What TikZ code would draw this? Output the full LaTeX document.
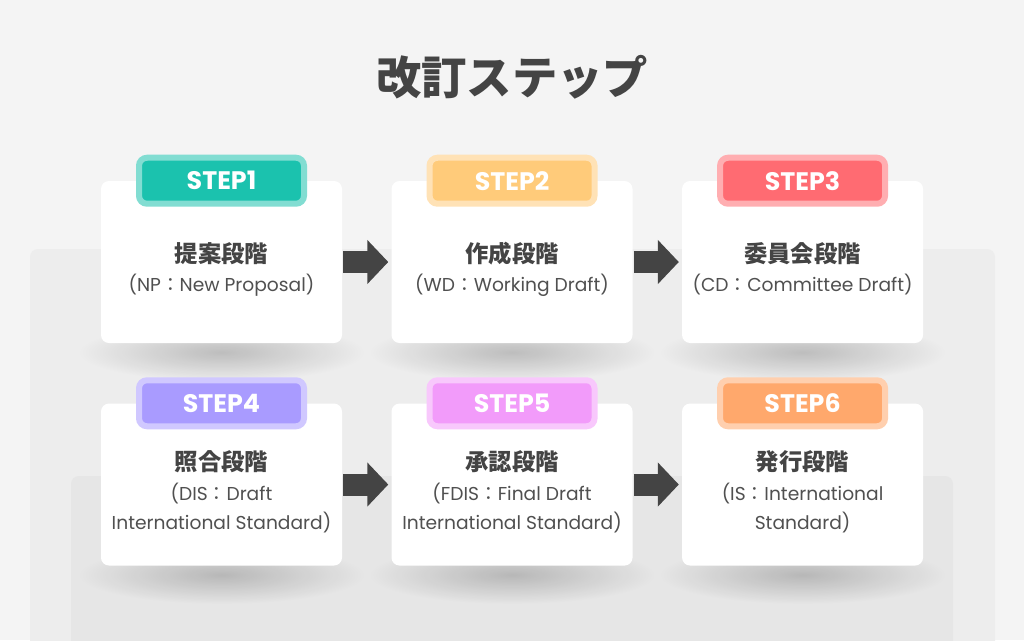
\documentclass[tikz,border=0pt]{standalone}
\usepackage{fontspec}
\newfontfamily\jpfont{Noto Sans CJK JP}
\newfontfamily\latfont{Poppins}
\usetikzlibrary{positioning,calc,arrows.meta,fadings}
\pgfdeclarelayer{back}
\pgfsetlayers{back,main}
\definecolor{bgcol}{HTML}{F4F4F4}
\definecolor{panelA}{HTML}{EDEDED}
\definecolor{panelB}{HTML}{E6E6E6}
\definecolor{inkcol}{HTML}{444444}
\definecolor{subcol}{HTML}{505050}
\definecolor{teal}{HTML}{1BC2AE}
\definecolor{sand}{HTML}{FFCB7A}
\definecolor{coral}{HTML}{FF6B72}
\definecolor{lilac}{HTML}{A99BFF}
\definecolor{pinky}{HTML}{F29BFA}
\definecolor{apricot}{HTML}{FFA86C}
\newcommand{\jpcolon}{{\jpfont ：}}
\tikzfading[name=cardfade, inner color=transparent!0, outer color=transparent!100]
\tikzset{
  card/.style={rectangle, fill=white, rounded corners=6pt, minimum width=180.75pt, minimum height=121.5pt},
  cardshade/.style={fill=black, opacity=0.2, path fading=cardfade},
  badge/.style={rectangle, rounded corners=6pt, line width=4.5pt, fill=#1, draw=#1!55!white,
    minimum width=123.75pt, minimum height=34.5pt, text=white, font=\latfont\bfseries\fontsize{19}{19}\selectfont},
  ttl/.style={text=inkcol, font=\jpfont\bfseries\fontsize{17.5}{17.5}\selectfont},
  sub/.style={text=subcol, align=center, font=\latfont\fontsize{14}{21.75}\selectfont},
  go/.style={draw=inkcol, line width=16.5pt, shorten <=0.75pt, shorten >=2.25pt,
    -{Triangle[length=15.75pt, width=32.25pt, fill=inkcol]}}
}
\begin{document}
\begin{tikzpicture}[x=0.75pt, y=-0.75pt]
  \useasboundingbox (0,0) rectangle (1024,640);
  \begin{pgfonlayer}{back}
    \fill[bgcol] (0,0) rectangle (1024,640);
    \fill[panelA, rounded corners=6pt] (30,249) rectangle (995,660);
    \fill[panelB, rounded corners=6pt] (71,476) rectangle (953,660);
  \end{pgfonlayer}

  \node[text=inkcol, font=\jpfont\bfseries\fontsize{34}{34}\selectfont] (head) at (512,77) {改訂ステップ};

  % cards
  \node[card] (c1) at (221.5,262) {};
  \node[card, right=36.75pt of c1] (c2) {};
  \node[card, right=36.75pt of c2] (c3) {};
  \node[card, below=45pt of c1] (c4) {};
  \node[card, right=36.75pt of c4] (c5) {};
  \node[card, right=36.75pt of c5] (c6) {};

  \begin{pgfonlayer}{back}
    \foreach \c in {c1,c2,c3,c4,c5,c6}
      \fill[cardshade] ($(\c.south west)+(-22,-20)$) rectangle ($(\c.south east)+(22,38)$);
  \end{pgfonlayer}

  \node[badge=teal] (b1) at (c1.north) {STEP1};
  \node[badge=sand] (b2) at (c2.north) {STEP2};
  \node[badge=coral] (b3) at (c3.north) {STEP3};
  \node[badge=lilac] (b4) at (c4.north) {STEP4};
  \node[badge=pinky] (b5) at (c5.north) {STEP5};
  \node[badge=apricot] (b6) at (c6.north) {STEP6};

  \node[ttl] (t1) at ($(c1)+(0,-8)$) {提案段階};
  \node[sub] (s1) at ($(c1)+(0,23)$) {(NP\jpcolon New Proposal)};
  \node[ttl] (t2) at ($(c2)+(0,-8)$) {作成段階};
  \node[sub] (s2) at ($(c2)+(0,23)$) {(WD\jpcolon Working Draft)};
  \node[ttl] (t3) at ($(c3)+(0,-8)$) {委員会段階};
  \node[sub] (s3) at ($(c3)+(0,23)$) {(CD\jpcolon Committee Draft)};
  \node[ttl] (t4) at ($(c4)+(0,-22.5)$) {照合段階};
  \node[sub] (s4) at ($(c4)+(0,23)$) {(DIS\jpcolon Draft\\International Standard)};
  \node[ttl] (t5) at ($(c5)+(0,-22.5)$) {承認段階};
  \node[sub] (s5) at ($(c5)+(0,23)$) {(FDIS\jpcolon Final Draft\\International Standard)};
  \node[ttl] (t6) at ($(c6)+(0,-22.5)$) {発行段階};
  \node[sub] (s6) at ($(c6)+(0,23)$) {(IS\jpcolon International\\Standard)};

  % arrows
  \draw[go] (c1.east) -- (c2.west);
  \draw[go] (c2.east) -- (c3.west);
  \draw[go] (c4.east) -- (c5.west);
  \draw[go] (c5.east) -- (c6.west);
\end{tikzpicture}
\end{document}
